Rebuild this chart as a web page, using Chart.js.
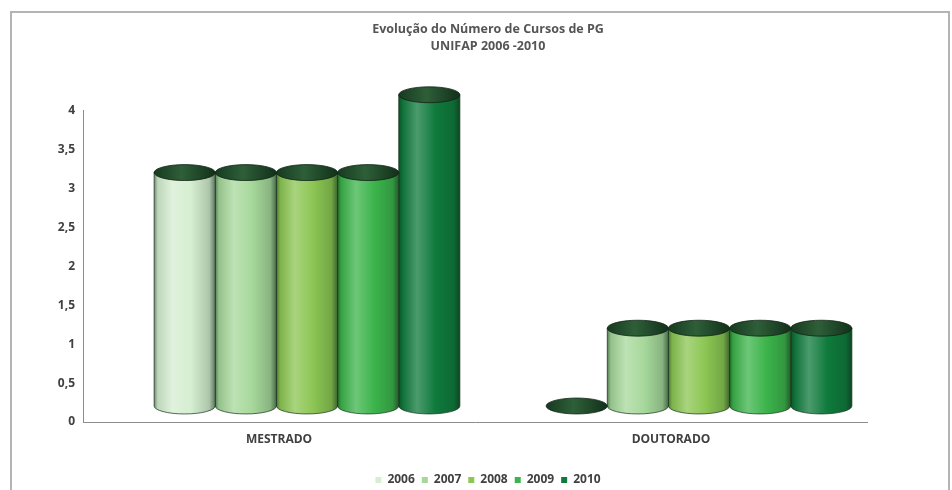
<!DOCTYPE html>
<html>
<head>
<meta charset="utf-8">
<script src="https://cdn.jsdelivr.net/npm/chart.js@4.4.1/dist/chart.umd.min.js"></script>
<style>
  html, body { margin: 0; padding: 0; background: #fff; }
  #wrap { position: relative; width: 952px; height: 490px; }
  #frame {
    position: absolute; left: 10px; top: 11px; width: 936px; height: 490px;
    border: 2px solid #b4b4b4; border-bottom: none; pointer-events: none;
  }
</style>
</head>
<body>
<div id="wrap">
  <canvas id="graficoCursos" width="952" height="490"></canvas>
  <div id="frame"></div>
</div>
<script>
const categorias = ['MESTRADO', 'DOUTORADO'];
const anos = ['2006', '2007', '2008', '2009', '2010'];
const cursos2006 = [3, 0];
const cursos2007 = [3, 1];
const cursos2008 = [3, 1];
const cursos2009 = [3, 1];
const cursos2010 = [4, 1];
const tickValores = [0, 0.5, 1, 1.5, 2, 2.5, 3, 3.5, 4];

const cores = ['#d6eed1', '#a7d89b', '#8cc653', '#3cb44b', '#0f7a3c'];
const series = [cursos2006, cursos2007, cursos2008, cursos2009, cursos2010];

function mix(hex, alvo, t) {
  const a = parseInt(hex.slice(1), 16), b = parseInt(alvo.slice(1), 16);
  const r = Math.round(((a >> 16) & 255) * (1 - t) + ((b >> 16) & 255) * t);
  const g = Math.round(((a >> 8) & 255) * (1 - t) + ((b >> 8) & 255) * t);
  const bl = Math.round((a & 255) * (1 - t) + (b & 255) * t);
  return `rgb(${r},${g},${bl})`;
}

// desloca os cilindros como na perspectiva 3D do original
const profX = 28, profY = -16;

const cilindros = {
  id: 'cilindros',
  beforeDatasetDraw(chart, args) {
    const ctx = chart.ctx;
    const cor = cores[args.index];
    args.meta.data.forEach(el => {
      const rx = el.width / 2;
      const ry = el.width * 0.13;
      const cx = el.x + profX;
      const topo = el.y + profY;
      const base = el.base + profY;
      const grad = ctx.createLinearGradient(cx - rx, 0, cx + rx, 0);
      grad.addColorStop(0, mix(cor, '#0b2412', 0.5));
      grad.addColorStop(0.06, mix(cor, '#0b2412', 0.12));
      grad.addColorStop(0.3, mix(cor, '#ffffff', 0.25));
      grad.addColorStop(0.6, cor);
      grad.addColorStop(0.9, mix(cor, '#0b2412', 0.2));
      grad.addColorStop(1, mix(cor, '#0b2412', 0.6));
      ctx.save();
      if (base - topo > 0.5) {
        ctx.beginPath();
        ctx.moveTo(cx - rx, topo);
        ctx.lineTo(cx - rx, base);
        ctx.ellipse(cx, base, rx, ry, 0, Math.PI, 0, true);
        ctx.lineTo(cx + rx, topo);
        ctx.closePath();
        ctx.fillStyle = grad;
        ctx.fill();
        ctx.strokeStyle = 'rgba(20,45,25,0.7)';
        ctx.lineWidth = 1;
        ctx.stroke();
      }
      // tampa
      const tg = ctx.createLinearGradient(cx - rx, 0, cx + rx, 0);
      tg.addColorStop(0, '#173a20');
      tg.addColorStop(0.45, '#2e5f38');
      tg.addColorStop(1, '#12301a');
      ctx.beginPath();
      ctx.ellipse(cx, topo, rx, ry, 0, 0, Math.PI * 2);
      ctx.fillStyle = tg;
      ctx.fill();
      ctx.strokeStyle = 'rgba(15,35,20,0.8)';
      ctx.stroke();
      ctx.restore();
    });
    return false;
  }
};

const fonte = { family: '"Open Sans", Lato, sans-serif', size: 12, weight: 'bold' };

new Chart(document.getElementById('graficoCursos'), {
  type: 'bar',
  data: {
    labels: categorias,
    datasets: anos.map((ano, i) => ({
      label: ano,
      data: series[i],
      backgroundColor: cores[i],
      borderWidth: 0,
      barPercentage: 1,
      categoryPercentage: 0.78
    }))
  },
  options: {
    responsive: false,
    animation: false,
    layout: { padding: { left: 34, right: 10, top: 21, bottom: -6 } },
    plugins: {
      title: {
        display: true,
        text: ['Evolução do Número de Cursos de PG', 'UNIFAP 2006 -2010'],
        color: '#555555',
        font: { family: '"Open Sans", Lato, sans-serif', size: 12.5, weight: 'bold', lineHeight: 1.35 },
        padding: { top: 0, bottom: 56 }
      },
      legend: {
        position: 'bottom',
        labels: {
          color: '#404040',
          font: fonte,
          boxWidth: 6,
          boxHeight: 6,
          padding: 7
        }
      },
      tooltip: { enabled: false }
    },
    scales: {
      x: {
        grid: { display: false },
        border: { display: true, color: '#8c8c8c', width: 1 },
        ticks: { color: '#404040', font: fonte, padding: 2 },
        afterFit(s) { s.height = 45; }
      },
      y: {
        min: 0,
        max: 4,
        afterBuildTicks(s) { s.ticks = tickValores.map(v => ({ value: v })); },
        grid: { display: false },
        border: { display: true, color: '#8c8c8c', width: 1 },
        ticks: {
          color: '#404040',
          font: fonte,
          padding: 0,
          callback: v => String(v).replace('.', ',')
        },
        afterFit(s) { s.width = 49; }
      },
      y2: {
        position: 'right',
        grid: { display: false },
        border: { display: false },
        ticks: { display: false },
        afterFit(s) { s.width = 75; }
      }
    }
  },
  plugins: [cilindros]
});
</script>
</body>
</html>
